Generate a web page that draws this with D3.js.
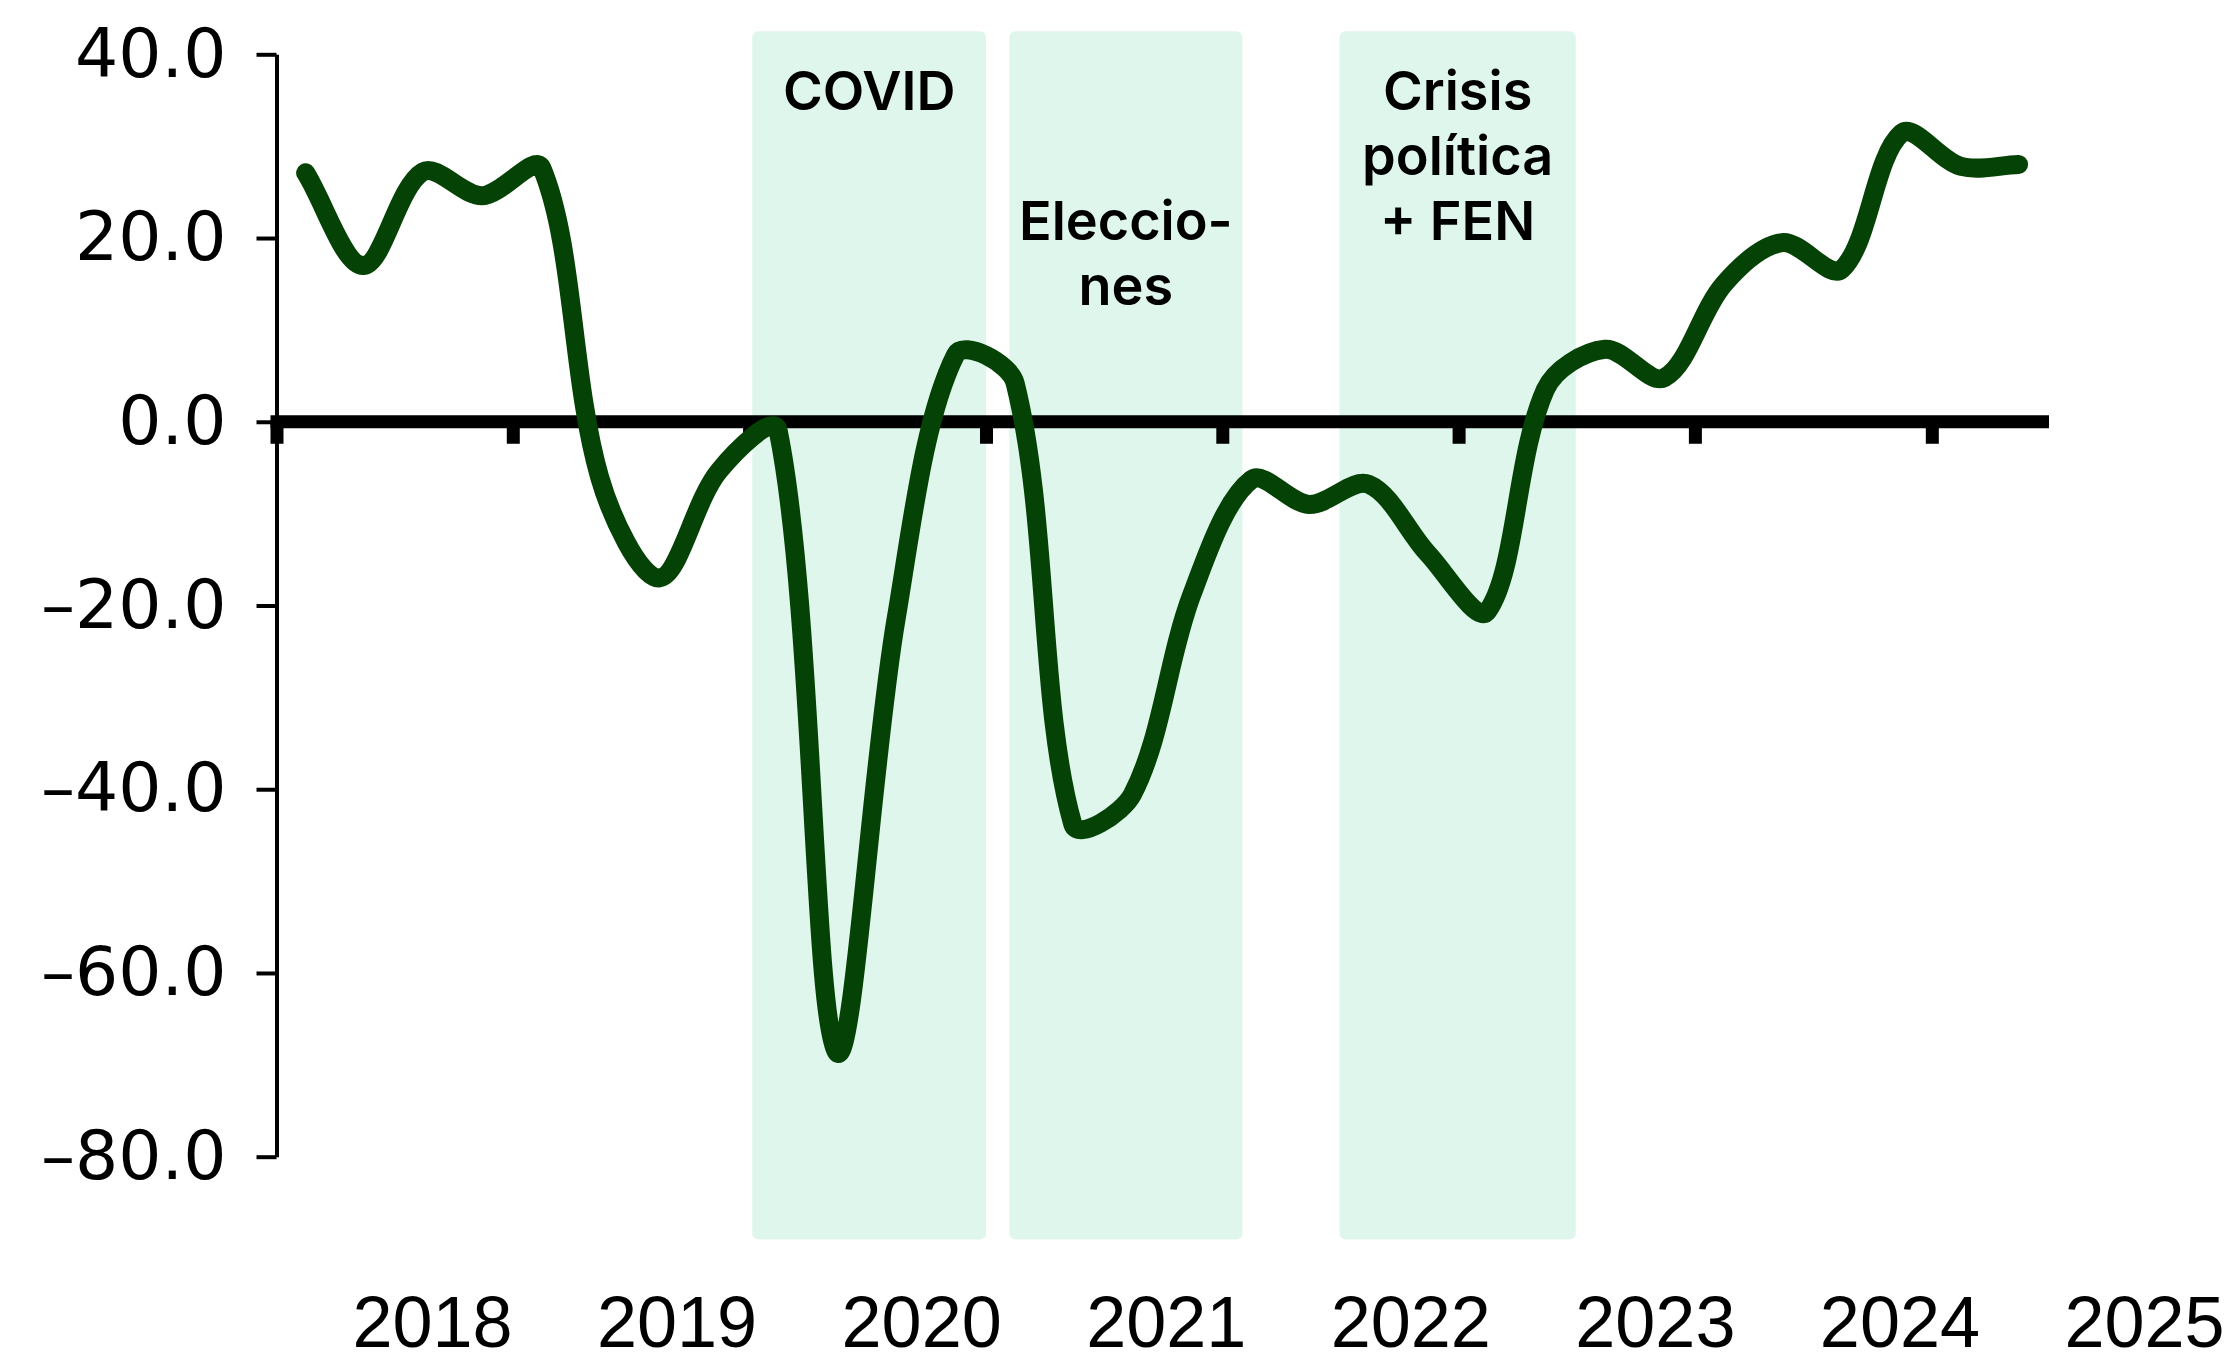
<!DOCTYPE html>
<html>
<head>
<meta charset="utf-8">
<script src="https://cdn.jsdelivr.net/npm/d3@7"></script>
<style>
  body { margin: 0; background: #fff; }
  svg { display: block; }
</style>
</head>
<body>
<svg id="chart"></svg>
<script>
// quarterly series
const periods = [
  "2018-T1", "2018-T2", "2018-T3", "2018-T4",
  "2019-T1", "2019-T2", "2019-T3", "2019-T4",
  "2020-T1", "2020-T2", "2020-T3", "2020-T4",
  "2021-T1", "2021-T2", "2021-T3", "2021-T4",
  "2022-T1", "2022-T2", "2022-T3", "2022-T4",
  "2023-T1", "2023-T2", "2023-T3", "2023-T4",
  "2024-T1", "2024-T2", "2024-T3", "2024-T4",
  "2025-T1", "2025-T2"
];
const values = [
  27.1, 17.0, 27.2, 24.6,
  27.6, -6.0, -17.0, -5.4,
  -1.0, -68.6, -21.5, 7.3,
  4.2, -43.8, -40.6, -18.8,
  -6.3, -9.0, -6.8, -14.4,
  -20.6, 3.5, 7.9, 4.8,
  15.0, 19.5, 16.6, 31.4,
  27.8, 28.0
];

const tickYears = [2018, 2019, 2020, 2021, 2022, 2023, 2024, 2025];
const yearLabels = ["2018", "2019", "2020", "2021", "2022", "2023", "2024", "2025"];
const yTicks = [40, 20, 0, -20, -40, -60, -80];

// shaded periods
const bandNames = ["COVID", "Elecciones", "Crisis"];
const bandStart = ["2020-01-06", "2021-02-06", "2022-07-01"];
const bandEnd = ["2021-01-01", "2022-02-01", "2023-07-01"];
const bandText = [["COVID"], ["", "", "Eleccio-", "nes"], ["Crisis", "política", "+ FEN"]];
const bandTop = 42.5, bandBottom = -89;

const svgWidth = 2239, svgHeight = 1362;
const svg = d3.select("#chart").attr("width", svgWidth).attr("height", svgHeight);

const parseDay = d3.timeParse("%Y-%m-%d");
function periodDate(p) {
  const yr = +p.slice(0, 4), q = +p.slice(6);
  return new Date(yr, (q - 1) * 3 + 1, 15);
}
const data = periods.map((p, i) => ({ date: periodDate(p), value: values[i] }));

const x = d3.scaleTime()
  .domain([new Date(2018, 0, 1), new Date(2025, 6, 1)])
  .range([276.5, 2049]);
const y = d3.scaleLinear().domain([-80, 40]).range([1156.7, 54.3]);
const xLabel = d3.scalePoint().domain(yearLabels).range([432, 2144]);

// spreadsheet-style smoothing: bezier arms scaled by segment length
function SmoothCurve(context) { this._context = context; }
SmoothCurve.prototype = {
  areaStart() {}, areaEnd() {},
  lineStart() { this._pts = []; },
  point(px, py) { this._pts.push([+px, +py]); },
  lineEnd() {
    const p = this._pts, n = p.length, c = this._context;
    if (!n) return;
    const dist = (a, b) => Math.hypot(b[0] - a[0], b[1] - a[1]);
    c.moveTo(p[0][0], p[0][1]);
    for (let i = 0; i < n - 1; i++) {
      const p0 = p[Math.max(i - 1, 0)], p1 = p[i], p2 = p[i + 1], p3 = p[Math.min(i + 2, n - 1)];
      const d01 = dist(p0, p1), d12 = dist(p1, p2), d23 = dist(p2, p3);
      const f1 = d12 / (d01 + d12) / 3, f2 = d12 / (d12 + d23) / 3;
      c.bezierCurveTo(
        p1[0] + (p2[0] - p0[0]) * f1, p1[1] + (p2[1] - p0[1]) * f1,
        p2[0] - (p3[0] - p1[0]) * f2, p2[1] - (p3[1] - p1[1]) * f2,
        p2[0], p2[1]);
    }
  }
};
const curveSmooth = context => new SmoothCurve(context);

// bands
const bands = bandNames.map((n, i) => ({
  name: n, start: parseDay(bandStart[i]), end: parseDay(bandEnd[i]), lines: bandText[i]
}));
svg.append("g").selectAll("rect")
  .data(bands).join("rect")
  .attr("x", d => x(d.start))
  .attr("y", y(bandTop))
  .attr("width", d => x(d.end) - x(d.start))
  .attr("height", y(bandBottom) - y(bandTop))
  .attr("rx", 6)
  .attr("fill", "#dff6ec");

const bandLabels = svg.append("g")
  .attr("font-family", "Inter, 'Open Sans', sans-serif")
  .attr("font-weight", 600)
  .attr("font-size", 54)
  .attr("text-anchor", "middle")
  .attr("fill", "#000");
bands.forEach(b => {
  const cx = (x(b.start) + x(b.end)) / 2;
  b.lines.forEach((t, j) => {
    if (!t) return;
    bandLabels.append("text")
      .attr("x", cx)
      .attr("y", y(bandTop) + 79 + j * 65)
      .text(t);
  });
});

// zero line + year ticks
svg.append("line")
  .attr("x1", x.range()[0] - 6).attr("x2", x.range()[1])
  .attr("y1", y(0)).attr("y2", y(0))
  .attr("stroke", "#000").attr("stroke-width", 13);

const xAxis = svg.append("g")
  .attr("transform", "translate(0," + y(0) + ")")
  .call(d3.axisBottom(x)
    .tickValues(tickYears.map(yr => new Date(yr, 0, 1)))
    .tickSize(22)
    .tickFormat(""));
xAxis.select(".domain").remove();
xAxis.selectAll(".tick line").attr("stroke", "#000").attr("stroke-width", 13);

// y axis
const fmt = d3.format(".1f");
const yAxis = svg.append("g")
  .attr("transform", "translate(" + x.range()[0] + ",0)")
  .call(d3.axisLeft(y)
    .tickValues(yTicks)
    .tickSizeInner(20)
    .tickSizeOuter(0)
    .tickPadding(30)
    .tickFormat(d => fmt(d).replace("\u2212", "\u2013")));
yAxis.select(".domain").attr("stroke", "#000").attr("stroke-width", 4);
yAxis.selectAll(".tick line").attr("stroke", "#000").attr("stroke-width", 4);
yAxis.selectAll(".tick text")
  .attr("fill", "#000")
  .attr("font-family", "'DejaVu Sans', sans-serif")
  .attr("font-size", 68);

// series
const line = d3.line()
  .x(d => x(d.date))
  .y(d => y(d.value))
  .curve(curveSmooth);

svg.append("path")
  .datum(data)
  .attr("fill", "none")
  .attr("stroke", "#054205")
  .attr("stroke-width", 19)
  .attr("stroke-linejoin", "round")
  .attr("stroke-linecap", "round")
  .attr("d", line);

// year labels
const labelAxis = svg.append("g")
  .attr("transform", "translate(0,1296)")
  .call(d3.axisBottom(xLabel).tickSize(0).tickPadding(0));
labelAxis.select(".domain").remove();
labelAxis.selectAll(".tick text")
  .attr("fill", "#000")
  .attr("font-family", "'Liberation Sans', Arial, sans-serif")
  .attr("font-size", 72);
</script>
</body>
</html>
